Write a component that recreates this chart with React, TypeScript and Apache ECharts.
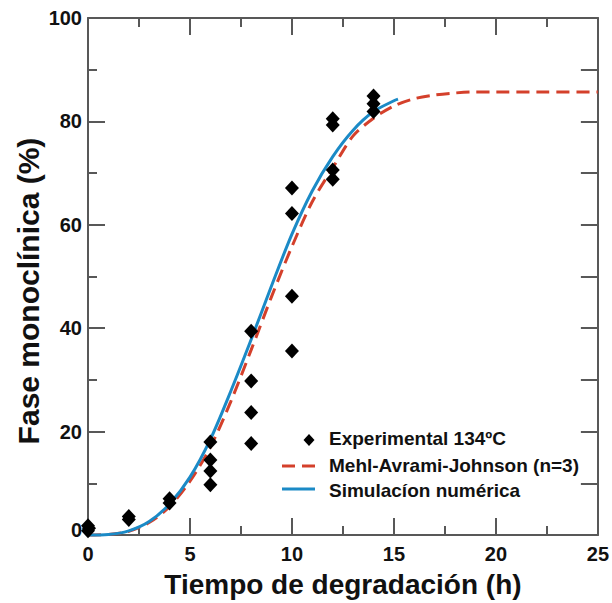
import React, { useEffect, useRef } from "react";
import * as echarts from "echarts";

// Experimental points (time h, monoclinic phase %)
const expTime = [0, 0, 0.05, 2, 2, 4, 4, 6, 6, 6, 6, 8, 8, 8, 8, 10, 10, 10, 10, 12, 12, 12, 12, 14, 14, 14];
const expValue = [0.8, 1.8, 1.3, 3.0, 3.6, 6.2, 7.0, 9.7, 12.4, 14.5, 18.0, 17.7, 23.7, 29.8, 39.4, 35.6, 46.2, 62.2, 67.1, 68.8, 70.6, 79.3, 80.5, 81.9, 83.4, 84.9];

// Mehl-Avrami-Johnson (n=3) curve
const majTime = [0, 1, 2, 3, 4, 5, 6, 7, 8, 9, 10, 11, 12, 13, 14, 15, 16, 17, 18, 19, 20, 22, 25];
const majValue = [0, 0.1, 0.7, 2.4, 5.5, 10.4, 17.0, 25.8, 35.8, 46.1, 55.8, 64.5, 71.0, 77.2, 80.6, 83.0, 84.4, 85.1, 85.5, 85.7, 85.7, 85.7, 85.7];

// Numerical simulation curve
const simTime = [0, 1, 2, 3, 4, 5, 6, 7, 8, 9, 10, 11, 12, 13, 14, 15, 15.2];
const simValue = [0, 0.1, 0.8, 2.6, 6.0, 11.2, 18.5, 27.8, 37.8, 48.2, 58.2, 66.6, 73.2, 78.3, 81.9, 84.0, 84.3];

const legendLabels = ["Experimental 134ºC", "Mehl-Avrami-Johnson (n=3)", "Simulacíon numérica"];
const xTitle = "Tiempo de degradación (h)";
const yTitle = "Fase monoclínica (%)";

const FONT = "'Liberation Sans', Arial, sans-serif";
const AXIS_COLOR = "#585858";
const RED = "#d4402b";
const BLUE = "#1b8ac6";

const zip = (a: number[], b: number[]) => a.map((v, i) => [v, b[i]]);

export default function App() {
  const ref = useRef<HTMLDivElement>(null);
  useEffect(() => {
    if (!ref.current) return;
    const chart = echarts.init(ref.current, undefined, { renderer: "svg" });
    const axisLine = { show: true, onZero: false, lineStyle: { color: AXIS_COLOR, width: 2 } };
    const tickStyle = { color: AXIS_COLOR, width: 2 };
    const labelStyle = { fontSize: 20, fontWeight: "bold" as const, color: "#111", fontFamily: FONT };
    chart.setOption({
      animation: false,
      backgroundColor: "#fff",
      grid: { left: 88, top: 18, width: 517, height: 517 },
      xAxis: [
        {
          type: "value", min: 0, max: 25, interval: 5, position: "bottom",
          axisLine, axisTick: { inside: true, length: 17, lineStyle: tickStyle },
          minorTick: { show: true, splitNumber: 2, length: 9, lineStyle: tickStyle },
          axisLabel: { ...labelStyle, margin: 9 },
          splitLine: { show: false }, minorSplitLine: { show: false },
          name: xTitle, nameLocation: "middle", nameGap: 35,
          nameTextStyle: { fontSize: 28, fontWeight: "bold", color: "#111", fontFamily: FONT },
        },
        {
          type: "value", min: 0, max: 25, interval: 5, position: "top",
          axisLine, axisTick: { inside: true, length: 17, lineStyle: tickStyle },
          minorTick: { show: true, splitNumber: 2, length: 9, lineStyle: tickStyle },
          axisLabel: { show: false }, splitLine: { show: false },
        },
      ],
      yAxis: [
        {
          type: "value", min: 0, max: 100, interval: 20, position: "left",
          axisLine, axisTick: { inside: true, length: 17, lineStyle: tickStyle },
          minorTick: { show: true, splitNumber: 2, length: 9, lineStyle: tickStyle },
          axisLabel: {
            ...labelStyle, margin: 6,
            formatter: (v: number) => (v === 0 ? "{z|0}" : String(v)),
            rich: { z: { ...labelStyle, padding: [0, 0, 10, 0] } },
          },
          splitLine: { show: false }, minorSplitLine: { show: false },
        },
        {
          type: "value", min: 0, max: 100, interval: 20, position: "right",
          axisLine, axisTick: { inside: true, length: 17, lineStyle: tickStyle },
          minorTick: { show: true, splitNumber: 2, length: 17, lineStyle: tickStyle },
          axisLabel: { show: false }, splitLine: { show: false },
        },
      ],
      series: [
        {
          name: legendLabels[1], type: "line", data: zip(majTime, majValue),
          smooth: 0.3, symbol: "none", clip: false,
          lineStyle: { color: RED, width: 3, type: [13, 7] }, z: 3,
        },
        {
          name: legendLabels[2], type: "line", data: zip(simTime, simValue),
          smooth: 0.3, symbol: "none", clip: false,
          lineStyle: { color: BLUE, width: 3 }, z: 4,
        },
        {
          name: legendLabels[0], type: "scatter", data: zip(expTime, expValue),
          symbol: "diamond", symbolSize: [14, 15], clip: false,
          itemStyle: { color: "#000", opacity: 1 }, z: 5,
        },
      ],
      graphic: [
        {
          type: "text", x: 28, y: 291, rotation: Math.PI / 2,
          style: {
            text: yTitle, fontSize: 30, fontWeight: "bold", fontFamily: FONT, fill: "#111",
            align: "center", verticalAlign: "middle",
          },
        },
        {
          type: "polygon", shape: { points: [[309, 434], [314.5, 440], [309, 446], [303.5, 440]] },
          style: { fill: "#000" },
        },
        {
          type: "text", x: 329, y: 438,
          style: { text: legendLabels[0], fontSize: 19, fontWeight: "bold", fontFamily: FONT, fill: "#111", verticalAlign: "middle" },
        },
        {
          type: "line", shape: { x1: 282, y1: 466, x2: 315, y2: 466 },
          style: { stroke: RED, lineWidth: 3, lineDash: [13, 7] },
        },
        {
          type: "text", x: 329, y: 465,
          style: { text: legendLabels[1], fontSize: 19, fontWeight: "bold", fontFamily: FONT, fill: "#111", verticalAlign: "middle" },
        },
        {
          type: "line", shape: { x1: 282, y1: 489, x2: 315, y2: 489 },
          style: { stroke: BLUE, lineWidth: 3 },
        },
        {
          type: "text", x: 329, y: 490,
          style: { text: legendLabels[2], fontSize: 19, fontWeight: "bold", fontFamily: FONT, fill: "#111", verticalAlign: "middle" },
        },
      ],
    });
    return () => chart.dispose();
  }, []);
  return (
    <div
      ref={ref}
      style={{ position: "fixed", left: 0, top: 0, width: 612, height: 603, background: "#fff" }}
    />
  );
}
